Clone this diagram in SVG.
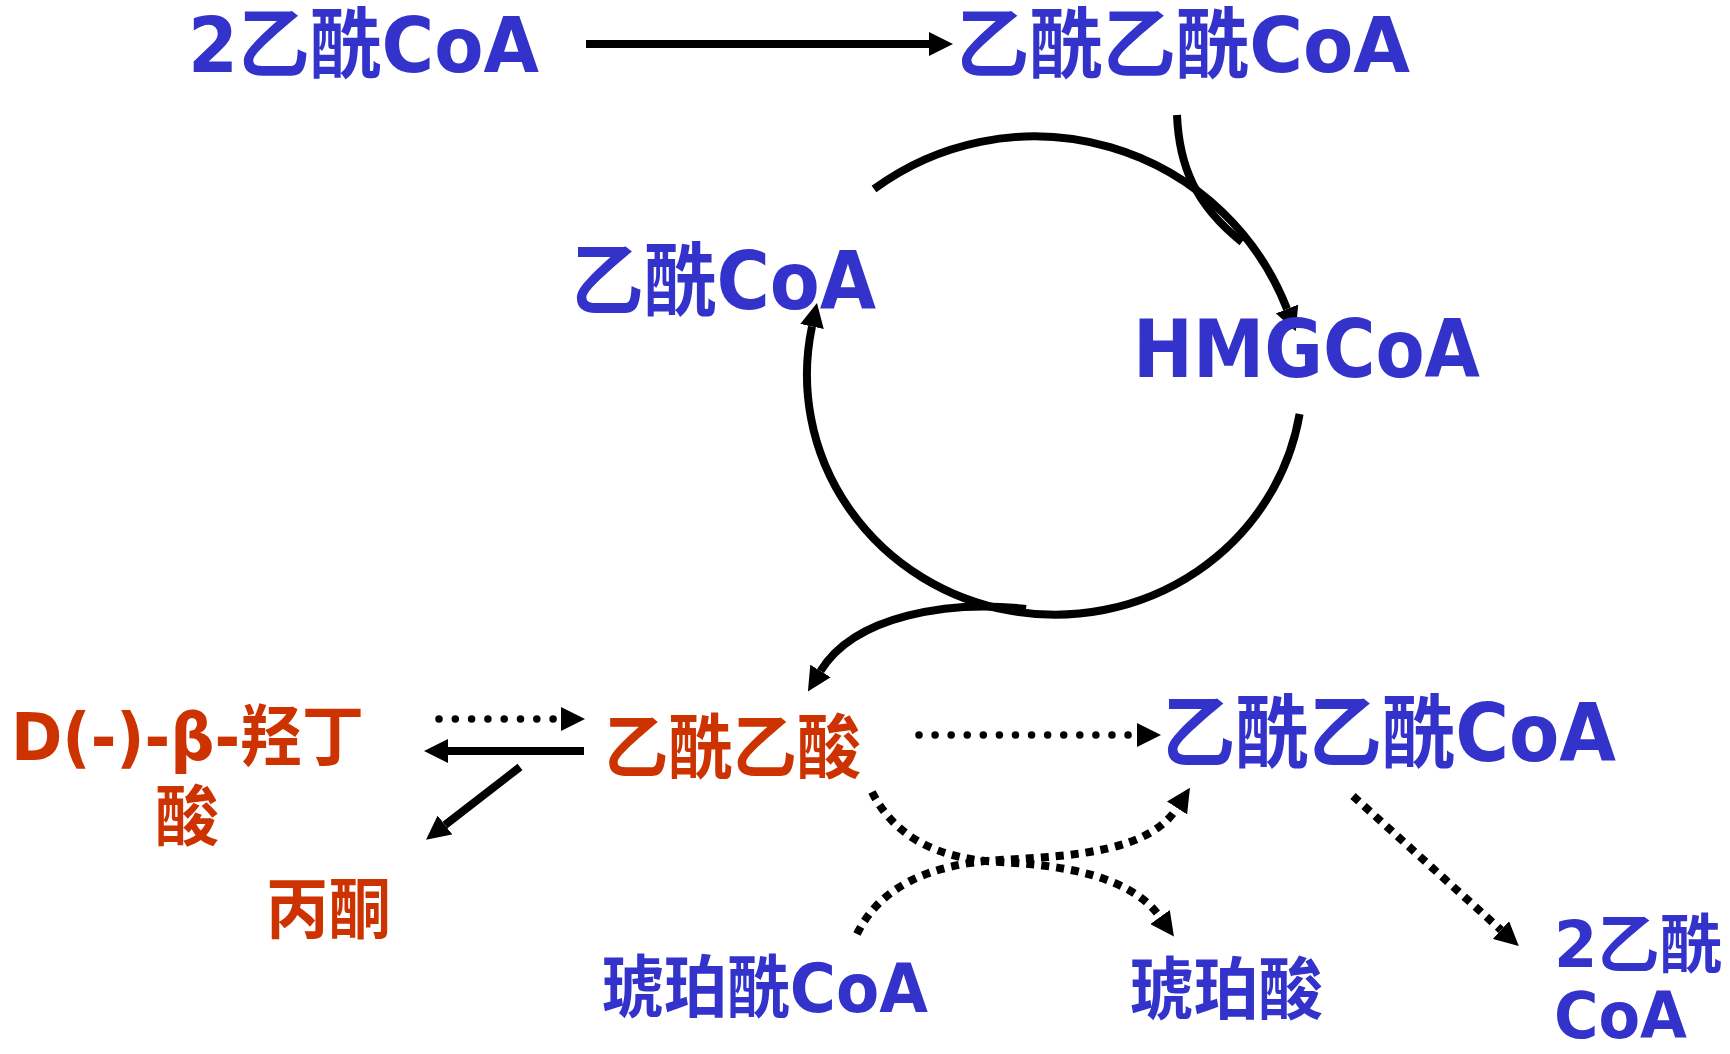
<svg xmlns="http://www.w3.org/2000/svg" width="1730" height="1054" viewBox="0 0 1730 1054">
<style>
text{font-family:'DejaVu Sans','Noto Sans CJK SC',sans-serif;font-weight:bold}
.b{fill:#3333CC}
.r{fill:#CC3300}
.s{fill:none;stroke:#000;stroke-width:8}
.d{fill:none;stroke:#000;stroke-width:7.5;stroke-linecap:round}
.q{fill:none;stroke:#000;stroke-width:8;stroke-dasharray:8 7}
</style>
<defs>
<marker id="ah" viewBox="0 0 24 24" refX="0" refY="12" markerWidth="24" markerHeight="24" markerUnits="userSpaceOnUse" orient="auto"><path d="M0,0 L24,12 L0,24 z" fill="#000"/></marker>
</defs>
<rect width="1730" height="1054" fill="#fff"/>
<g id="connectors">
<path class="s" d="M586,44 L929,44" marker-end="url(#ah)"/>
<path class="s" d="M874,189 A271,271 0 0 1 1287,309" marker-end="url(#ah)"/>
<path class="s" d="M1177,115 C1179,165 1195,205 1242,242"/>
<path class="s" d="M1299.6,414 A248,240 0 1 1 812,326.5" marker-end="url(#ah)"/>
<path class="s" d="M1026,609 C950,600 855,615 820.5,671" marker-end="url(#ah)"/>
<path class="d" d="M439,719 L561,719" stroke-dasharray="0 16.3" marker-end="url(#ah)"/>
<path class="s" d="M584,751 L448,751" marker-end="url(#ah)"/>
<path class="s" d="M520,767 L445,825" marker-end="url(#ah)"/>
<path class="d" d="M919,735 L1137,735" stroke-dasharray="0 16.08" marker-end="url(#ah)"/>
<path class="q" d="M872,792 Q905,858 1000,862 C1060,865 1130,875 1160,917" marker-end="url(#ah)"/>
<path class="q" d="M857,934 Q890,866 1000,860 C1080,856 1150,850 1177,808" marker-end="url(#ah)"/>
<path class="q" d="M1353,796 L1501,930" marker-end="url(#ah)"/>
</g>
<g id="n-2acetylcoa-top"><text class="b" x="188" y="72" font-size="77" textLength="351" lengthAdjust="spacingAndGlyphs">2乙酰CoA</text></g>
<g id="n-acetoacetylcoa-top"><text class="b" x="956" y="72" font-size="77" textLength="454" lengthAdjust="spacingAndGlyphs">乙酰乙酰CoA</text></g>
<g id="n-acetylcoa"><text class="b" x="571" y="309" font-size="80" textLength="305" lengthAdjust="spacingAndGlyphs">乙酰CoA</text></g>
<g id="n-hmgcoa"><text class="b" x="1133" y="377" font-size="80" textLength="347" lengthAdjust="spacingAndGlyphs">HMGCoA</text></g>
<g id="n-hydroxybutyrate"><text class="r" x="11" y="760" font-size="66" textLength="353" lengthAdjust="spacingAndGlyphs">D(-)-β-羟丁</text><text class="r" x="155" y="840" font-size="66" textLength="64" lengthAdjust="spacingAndGlyphs">酸</text></g>
<g id="n-acetone"><text class="r" x="266" y="933" font-size="66" textLength="125" lengthAdjust="spacingAndGlyphs">丙酮</text></g>
<g id="n-acetoacetate"><text class="r" x="604" y="773" font-size="70" textLength="257" lengthAdjust="spacingAndGlyphs">乙酰乙酸</text></g>
<g id="n-acetoacetylcoa-bottom"><text class="b" x="1162" y="761" font-size="80" textLength="454" lengthAdjust="spacingAndGlyphs">乙酰乙酰CoA</text></g>
<g id="n-succinylcoa"><text class="b" x="601" y="1012" font-size="68" textLength="327" lengthAdjust="spacingAndGlyphs">琥珀酰CoA</text></g>
<g id="n-succinate"><text class="b" x="1129" y="1014" font-size="68" textLength="194" lengthAdjust="spacingAndGlyphs">琥珀酸</text></g>
<g id="n-2acetylcoa-bottom"><text class="b" x="1554" y="967" font-size="64" textLength="168" lengthAdjust="spacingAndGlyphs">2乙酰</text><text class="b" x="1554" y="1038" font-size="64" textLength="133" lengthAdjust="spacingAndGlyphs">CoA</text></g>
</svg>
